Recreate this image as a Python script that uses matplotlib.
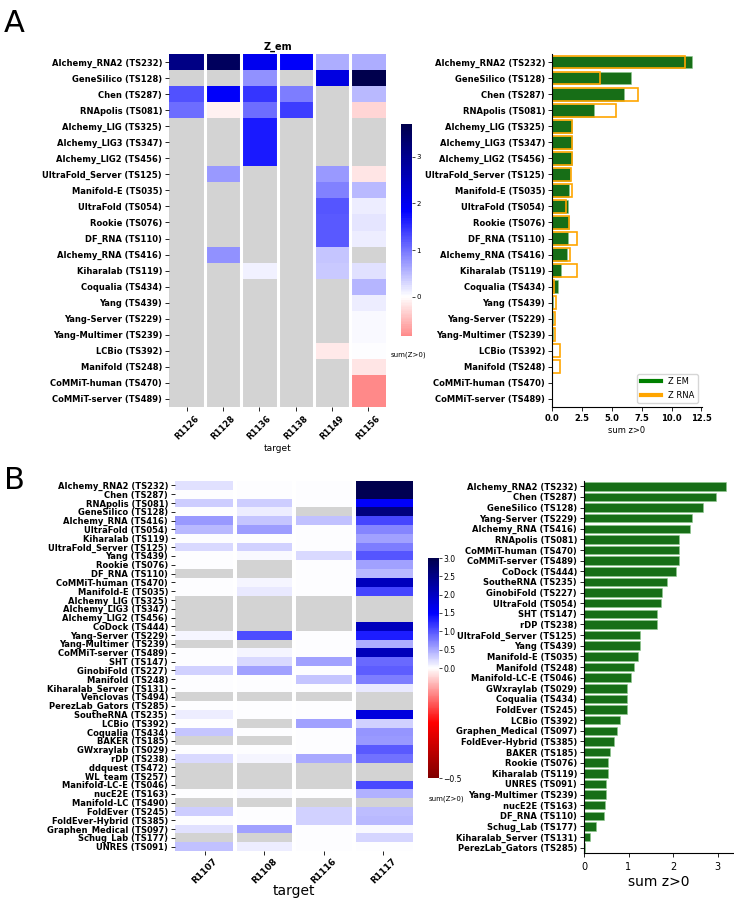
import numpy as np
import matplotlib
matplotlib.use('Agg')
import matplotlib.pyplot as plt
from matplotlib.colors import ListedColormap, Normalize, TwoSlopeNorm
from matplotlib.cm import ScalarMappable
from matplotlib.lines import Line2D

nan = np.nan

# ---------------- panel A data ----------------
targets_a = ['R1126', 'R1128', 'R1136', 'R1138', 'R1149', 'R1156']
groups_a = ['Alchemy_RNA2 (TS232)', 'GeneSilico (TS128)', 'Chen (TS287)', 'RNApolis (TS081)',
            'Alchemy_LIG (TS325)', 'Alchemy_LIG3 (TS347)', 'Alchemy_LIG2 (TS456)',
            'UltraFold_Server (TS125)', 'Manifold-E (TS035)', 'UltraFold (TS054)',
            'Rookie (TS076)', 'DF_RNA (TS110)', 'Alchemy_RNA (TS416)', 'Kiharalab (TS119)',
            'Coqualia (TS434)', 'Yang (TS439)', 'Yang-Server (TS229)', 'Yang-Multimer (TS239)',
            'LCBio (TS392)', 'Manifold (TS248)', 'CoMMiT-human (TS470)', 'CoMMiT-server (TS489)']
z_em = np.array([
    [3.1, 3.5, 2.0, 1.9, 0.6, 0.6],
    [nan, nan, 0.8, nan, 2.15, 3.7],
    [1.25, 1.9, 1.45, 0.95, nan, 0.5],
    [1.05, -0.1, 1.05, 1.4, nan, -0.3],
    [nan, nan, 1.67, nan, nan, nan],
    [nan, nan, 1.67, nan, nan, nan],
    [nan, nan, 1.67, nan, nan, nan],
    [nan, 0.75, nan, nan, 0.73, -0.2],
    [nan, nan, nan, nan, 0.9, 0.5],
    [nan, nan, nan, nan, 1.22, 0.12],
    [nan, nan, nan, nan, 1.2, 0.2],
    [nan, nan, nan, nan, 1.2, 0.14],
    [nan, 0.8, nan, nan, 0.43, nan],
    [nan, nan, 0.1, nan, 0.4, 0.23],
    [nan, nan, nan, nan, nan, 0.53],
    [nan, nan, nan, nan, nan, 0.12],
    [nan, nan, nan, nan, nan, 0.05],
    [nan, nan, nan, nan, nan, 0.05],
    [nan, nan, nan, nan, -0.15, 0.02],
    [nan, nan, nan, nan, nan, -0.2],
    [nan, nan, nan, nan, nan, -0.84],
    [nan, nan, nan, nan, nan, -0.84],
])
sum_em = [11.7, 6.65, 6.05, 3.5, 1.67, 1.67, 1.67, 1.48, 1.4, 1.34, 1.4, 1.34, 1.23,
          0.73, 0.53, 0.12, 0.05, 0.05, 0.02, 0.0, 0.0, 0.0]
sum_rna = [11.1, 4.0, 7.2, 5.36, 1.67, 1.67, 1.67, 1.57, 1.7, 1.17, 1.4, 2.12, 1.48,
           2.09, 0.2, 0.37, 0.28, 0.28, 0.64, 0.64, 0.0, 0.0]

# ---------------- panel B data ----------------
targets_b = ['R1107', 'R1108', 'R1116', 'R1117']
groups_b = ['Alchemy_RNA2 (TS232)', 'Chen (TS287)', 'RNApolis (TS081)', 'GeneSilico (TS128)',
            'Alchemy_RNA (TS416)', 'UltraFold (TS054)', 'Kiharalab (TS119)',
            'UltraFold_Server (TS125)', 'Yang (TS439)', 'Rookie (TS076)', 'DF_RNA (TS110)',
            'CoMMiT-human (TS470)', 'Manifold-E (TS035)', 'Alchemy_LIG (TS325)',
            'Alchemy_LIG3 (TS347)', 'Alchemy_LIG2 (TS456)', 'CoDock (TS444)',
            'Yang-Server (TS229)', 'Yang-Multimer (TS239)', 'CoMMiT-server (TS489)',
            'SHT (TS147)', 'GinobiFold (TS227)', 'Manifold (TS248)', 'Kiharalab_Server (TS131)',
            'Venclovas (TS494)', 'PerezLab_Gators (TS285)', 'SoutheRNA (TS235)', 'LCBio (TS392)',
            'Coqualia (TS434)', 'BAKER (TS185)', 'GWxraylab (TS029)', 'rDP (TS238)',
            'ddquest (TS472)', 'WL_team (TS257)', 'Manifold-LC-E (TS046)', 'nucE2E (TS163)',
            'Manifold-LC (TS490)', 'FoldEver (TS245)', 'FoldEver-Hybrid (TS385)',
            'Graphen_Medical (TS097)', 'Schug_Lab (TS177)', 'UNRES (TS091)']
z_b = np.array([
    [0.18, 0.0, 0.0, 3.0],
    [0.0, 0.01, 0.0, 2.95],
    [0.3, 0.3, 0.0, 1.54],
    [0.0, 0.1, nan, 2.57],
    [0.6, 0.33, 0.37, 1.08],
    [0.42, 0.58, 0.0, 0.72],
    [0.0, 0.0, 0.0, 0.54],
    [0.22, 0.27, 0.02, 0.75],
    [0.0, 0.04, 0.22, 0.99],
    [0.0, nan, 0.0, 0.55],
    [nan, nan, 0.02, 0.42],
    [0.0, 0.07, 0.0, 2.06],
    [0.0, 0.12, 0.0, 1.1],
    [nan, nan, nan, nan],
    [nan, nan, nan, nan],
    [nan, nan, nan, nan],
    [nan, nan, nan, 2.06],
    [0.05, 1.05, 0.0, 1.33],
    [nan, nan, 0.0, 0.49],
    [0.0, 0.05, 0.0, 2.08],
    [0.0, 0.22, 0.55, 0.88],
    [0.26, 0.55, 0.0, 0.95],
    [0.02, 0.0, 0.33, 0.77],
    [0.0, 0.01, 0.0, 0.12],
    [nan, nan, nan, nan],
    [0.0, 0.02, 0.01, nan],
    [0.1, 0.0, 0.0, 1.77],
    [0.0, nan, 0.55, 0.27],
    [0.35, 0.0, 0.0, 0.62],
    [nan, nan, 0.0, 0.59],
    [0.0, 0.0, 0.0, 0.97],
    [0.22, 0.07, 0.5, 0.84],
    [nan, nan, nan, nan],
    [nan, nan, nan, nan],
    [nan, nan, nan, 1.06],
    [0.0, 0.03, 0.0, 0.45],
    [nan, nan, nan, nan],
    [0.3, 0.0, 0.28, 0.39],
    [0.0, 0.0, 0.28, 0.4],
    [0.17, 0.55, 0.0, 0.03],
    [nan, nan, 0.02, 0.24],
    [0.37, 0.1, 0.0, 0.02],
])
bar_b_labels = ['Alchemy_RNA2 (TS232)', 'Chen (TS287)', 'GeneSilico (TS128)', 'Yang-Server (TS229)',
                'Alchemy_RNA (TS416)', 'RNApolis (TS081)', 'CoMMiT-human (TS470)',
                'CoMMiT-server (TS489)', 'CoDock (TS444)', 'SoutheRNA (TS235)',
                'GinobiFold (TS227)', 'UltraFold (TS054)', 'SHT (TS147)', 'rDP (TS238)',
                'UltraFold_Server (TS125)', 'Yang (TS439)', 'Manifold-E (TS035)',
                'Manifold (TS248)', 'Manifold-LC-E (TS046)', 'GWxraylab (TS029)',
                'Coqualia (TS434)', 'FoldEver (TS245)', 'LCBio (TS392)',
                'Graphen_Medical (TS097)', 'FoldEver-Hybrid (TS385)', 'BAKER (TS185)',
                'Rookie (TS076)', 'Kiharalab (TS119)', 'UNRES (TS091)', 'Yang-Multimer (TS239)',
                'nucE2E (TS163)', 'DF_RNA (TS110)', 'Schug_Lab (TS177)',
                'Kiharalab_Server (TS131)', 'PerezLab_Gators (TS285)']
bar_b_values = [3.19, 2.97, 2.67, 2.43, 2.38, 2.14, 2.13, 2.13, 2.06, 1.87, 1.76, 1.72, 1.65,
                1.63, 1.26, 1.25, 1.22, 1.12, 1.06, 0.97, 0.97, 0.97, 0.82, 0.75, 0.68, 0.59,
                0.55, 0.54, 0.49, 0.49, 0.48, 0.44, 0.26, 0.13, 0.03]

W, H = 734, 900
GREEN = '#176e17'


def box(x0, y0, x1, y1):
    return [x0 / W, 1 - y1 / H, (x1 - x0) / W, (y1 - y0) / H]


def heatmap(ax, data, cmap, norm, xlabels, ylabels, gap, fs_y, fs_x):
    nr, nc = data.shape
    ax.set_facecolor('#d3d3d3')
    ax.pcolormesh(np.ma.masked_invalid(data), cmap=cmap, norm=norm)
    for x in range(1, nc):
        ax.axvline(x, color='white', lw=gap)
    ax.set_xlim(0, nc)
    ax.set_ylim(nr, 0)
    for s in ax.spines.values():
        s.set_visible(False)
    ax.set_xticks(np.arange(nc) + 0.5)
    ax.set_xticklabels(xlabels, rotation=45, fontsize=fs_x, fontweight='bold')
    ax.set_yticks(np.arange(nr) + 0.5)
    ax.set_yticklabels(ylabels, fontsize=fs_y, fontweight='bold')
    ax.tick_params(length=3, width=0.6, pad=2)


fig = plt.figure(figsize=(W / 100, H / 100), dpi=100)

# ---------------- panel A ----------------
seis = plt.get_cmap('seismic_r')
vmin_a, vmax_a = np.nanmin(z_em), np.nanmax(z_em)
vr = max(vmax_a, -vmin_a)
cmap_a = ListedColormap(seis(np.linspace(0.5 + vmin_a / (2 * vr), 0.5 + vmax_a / (2 * vr), 256)))
norm_a = Normalize(vmin_a, vmax_a)

ax_ha = fig.add_axes(box(169, 54, 386, 407))
heatmap(ax_ha, z_em, cmap_a, norm_a, targets_a, groups_a, 2.2, 6, 6)
ax_ha.set_title('Z_em', fontsize=7, fontweight='bold', pad=3)
ax_ha.set_xlabel('target', fontsize=6.5, labelpad=2)

cax_a = fig.add_axes(box(401, 124, 412, 336))
cb = fig.colorbar(ScalarMappable(norm=norm_a, cmap=cmap_a), cax=cax_a, ticks=[0, 1, 2, 3])
cb.outline.set_visible(False)
cax_a.tick_params(labelsize=5, length=2, width=0.5, pad=1)
fig.text(408 / W, 1 - 356 / H, 'sum(Z>0)', fontsize=5, ha='center')

ax_ba = fig.add_axes(box(552, 54, 702, 407))
ya = np.arange(len(groups_a))
ax_ba.barh(ya, sum_em, height=0.8, color=GREEN, edgecolor='#8fc88f', linewidth=0.4)
ax_ba.barh(ya, sum_rna, height=0.8, fill=False, edgecolor='orange', linewidth=1.2)
ax_ba.set_ylim(len(groups_a) - 0.5, -0.5)
ax_ba.set_xlim(0, 12.55)
ax_ba.set_xticks([0, 2.5, 5, 7.5, 10, 12.5])
ax_ba.set_xticklabels(['0.0', '2.5', '5.0', '7.5', '10.0', '12.5'], fontsize=6, fontweight='bold')
ax_ba.set_yticks(ya)
ax_ba.set_yticklabels(groups_a, fontsize=6, fontweight='bold')
ax_ba.tick_params(length=3, width=0.6, pad=2)
ax_ba.spines['top'].set_visible(False)
ax_ba.spines['right'].set_visible(False)
ax_ba.set_xlabel('sum z>0', fontsize=6, labelpad=2)
ax_ba.legend(handles=[Line2D([], [], color='green', lw=3), Line2D([], [], color='orange', lw=3)],
             labels=['Z EM', 'Z RNA'], loc='lower right', fontsize=6, handlelength=2.5)

# ---------------- panel B ----------------
norm_b = TwoSlopeNorm(vmin=-0.5, vcenter=0, vmax=3.0)
ax_hb = fig.add_axes(box(175, 481, 413, 851))
heatmap(ax_hb, z_b, seis, norm_b, targets_b, groups_b, 2.9, 6, 6.5)
ax_hb.tick_params(axis='x', pad=1)
ax_hb.set_xlabel('target', fontsize=10, labelpad=-1)

cax_b = fig.add_axes(box(428, 558, 439, 778))
cb2 = fig.colorbar(ScalarMappable(norm=norm_b, cmap=seis), cax=cax_b,
                   ticks=[-0.5, 0, 0.5, 1.0, 1.5, 2.0, 2.5, 3.0])
cb2.outline.set_visible(False)
cb2.ax.set_yticklabels(['\u22120.5', '0.0', '0.5', '1.0', '1.5', '2.0', '2.5', '3.0'])
cax_b.tick_params(labelsize=5.5, length=2, width=0.5, pad=1)
fig.text(446 / W, 1 - 800 / H, 'sum(Z>0)', fontsize=5, ha='center')

ax_bb = fig.add_axes(box(584, 481, 734, 853))
yb = np.arange(len(bar_b_labels))
ax_bb.barh(yb, bar_b_values, height=0.8, color=GREEN, edgecolor='#8fc88f', linewidth=0.4)
ax_bb.set_ylim(len(bar_b_labels) - 0.5, -0.5)
ax_bb.set_xlim(0, 3.37)
ax_bb.set_xticks([0, 1, 2, 3])
ax_bb.set_yticks(yb)
ax_bb.set_yticklabels(bar_b_labels, fontsize=6, fontweight='bold')
ax_bb.tick_params(axis='x', labelsize=7, length=3, width=0.6)
ax_bb.tick_params(axis='y', length=3, width=0.6, pad=2)
ax_bb.spines['top'].set_visible(False)
ax_bb.spines['right'].set_visible(False)
ax_bb.set_xlabel('sum z>0', fontsize=10, labelpad=2)

fig.text(4 / W, 1 - 32 / H, 'A', fontsize=22)
fig.text(4 / W, 1 - 489 / H, 'B', fontsize=22)

fig.savefig('out.png', dpi=100)
